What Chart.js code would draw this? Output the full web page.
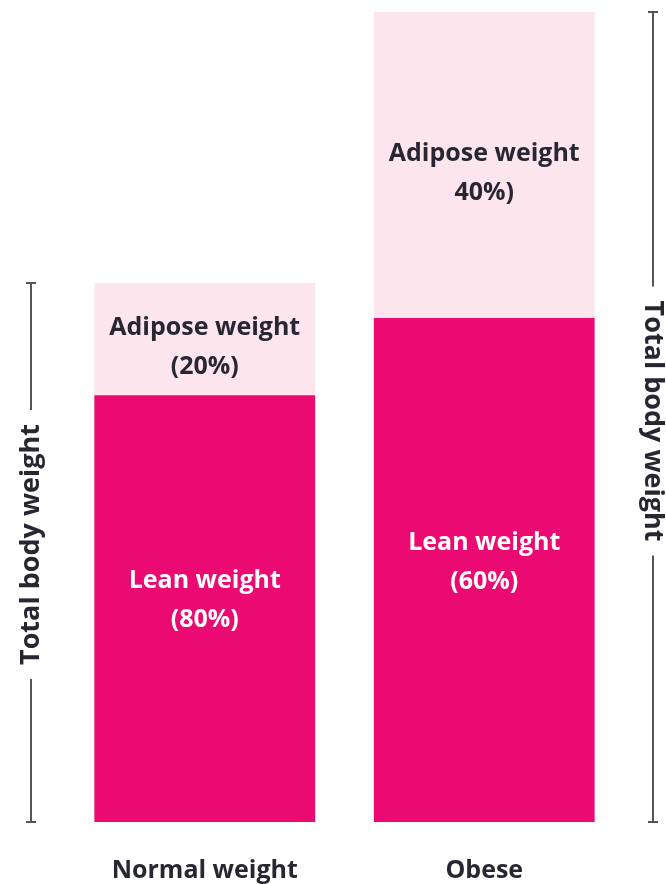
<!DOCTYPE html>
<html>
<head>
<meta charset="utf-8">
<script src="https://cdn.jsdelivr.net/npm/chart.js@4/dist/chart.umd.min.js"></script>
<style>
  html, body { margin: 0; padding: 0; background: #ffffff; }
  #wrap { width: 666px; height: 884px; position: relative; }
</style>
</head>
<body>
<div id="wrap"><canvas id="c" width="666" height="884"></canvas></div>
<script>
// ---- data ----
const categories = ['Normal weight', 'Obese'];
const leanValues = [79.2, 93.5];
const adiposeValues = [20.8, 56.8];
const leanLabels = [['Lean weight', '(80%)'], ['Lean weight', '(60%)']];
const adiposeLabels = [['Adipose weight', '(20%)'], ['Adipose weight', '40%)']];
const bracketLabel = 'Total body weight';

const FONT = "'Open Sans', 'DejaVu Sans', sans-serif";
const DARK = '#272733';
const LEAN = '#EB0A72';
const ADIPOSE = '#FCE5EC';

const barLabelPlugin = {
  id: 'barLabels',
  afterDatasetsDraw(chart) {
    const ctx = chart.ctx;
    const sets = [
      { meta: chart.getDatasetMeta(0), labels: leanLabels, color: '#ffffff', shift: -8 },
      { meta: chart.getDatasetMeta(1), labels: adiposeLabels, color: DARK, shift: 8 }
    ];
    ctx.save();
    ctx.font = 'bold 25px ' + FONT;
    ctx.textAlign = 'center';
    ctx.textBaseline = 'middle';
    sets.forEach(s => {
      s.meta.data.forEach((bar, i) => {
        const top = Math.min(bar.y, bar.base);
        const bottom = Math.max(bar.y, bar.base);
        const cy = (top + bottom) / 2 + s.shift;
        const lines = s.labels[i];
        const lh = 39;
        ctx.fillStyle = s.color;
        lines.forEach((t, k) => {
          ctx.fillText(t, bar.x, cy + (k - (lines.length - 1) / 2) * lh);
        });
      });
    });
    ctx.restore();
  }
};

const bracketPlugin = {
  id: 'brackets',
  afterDraw(chart) {
    const ctx = chart.ctx;
    const y = chart.scales.y;
    const totals = categories.map((c, i) => leanValues[i] + adiposeValues[i]);
    const specs = [
      { x: 31, top: y.getPixelForValue(totals[0]), bottom: y.getPixelForValue(0), rot: -Math.PI / 2, shift: -8 },
      { x: 653, top: y.getPixelForValue(totals[1]), bottom: y.getPixelForValue(0), rot: Math.PI / 2, shift: 4 }
    ];
    ctx.save();
    ctx.font = 'bold 27px ' + FONT;
    const tw = ctx.measureText(bracketLabel).width;
    specs.forEach(s => {
      const mid = (s.top + s.bottom) / 2 + s.shift;
      const gap = tw / 2 + 14;
      ctx.strokeStyle = '#555555';
      ctx.lineWidth = 2;
      ctx.beginPath();
      ctx.moveTo(s.x, s.top); ctx.lineTo(s.x, mid - gap);
      ctx.moveTo(s.x, mid + gap); ctx.lineTo(s.x, s.bottom);
      ctx.moveTo(s.x - 5, s.top); ctx.lineTo(s.x + 5, s.top);
      ctx.moveTo(s.x - 5, s.bottom); ctx.lineTo(s.x + 5, s.bottom);
      ctx.stroke();
      ctx.save();
      ctx.translate(s.x, mid);
      ctx.rotate(s.rot);
      ctx.fillStyle = DARK;
      ctx.textAlign = 'center';
      ctx.textBaseline = 'middle';
      ctx.fillText(bracketLabel, 0, 0);
      ctx.restore();
    });
    ctx.restore();
  }
};

new Chart(document.getElementById('c'), {
  type: 'bar',
  data: {
    labels: categories,
    datasets: [
      { label: 'Lean weight', data: leanValues, backgroundColor: LEAN, borderWidth: 0,
        barPercentage: 1.0, categoryPercentage: 0.79 },
      { label: 'Adipose weight', data: adiposeValues, backgroundColor: ADIPOSE, borderWidth: 0,
        barPercentage: 1.0, categoryPercentage: 0.79 }
    ]
  },
  options: {
    responsive: false,
    animation: false,
    events: [],
    layout: { padding: { left: 65, right: 42, top: 12, bottom: 0 } },
    plugins: { legend: { display: false }, tooltip: { enabled: false }, title: { display: false } },
    scales: {
      x: {
        stacked: true,
        grid: { display: false },
        border: { display: false },
        ticks: { color: DARK, font: { family: FONT, size: 25, weight: 'bold' }, padding: 26, maxRotation: 0, minRotation: 0 },
        afterFit(scale) { scale.height = 62; }
      },
      y: {
        stacked: true,
        display: false,
        min: 0,
        max: 150.3
      }
    }
  },
  plugins: [barLabelPlugin, bracketPlugin]
});
</script>
</body>
</html>
